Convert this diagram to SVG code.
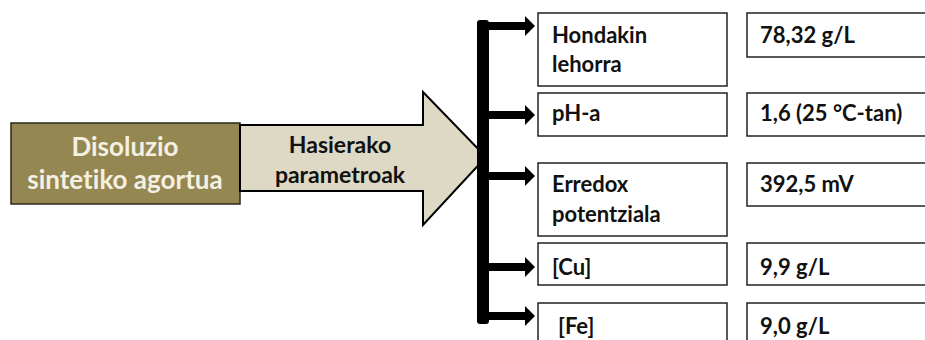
<svg xmlns="http://www.w3.org/2000/svg" width="925" height="340" viewBox="0 0 925 340">
<defs>
<style>
text{font-family:"Lato","Liberation Sans",sans-serif;font-weight:bold;font-variant-ligatures:none;}
.lbl{font-size:22px;fill:#111;}
.box{fill:#fff;stroke:#222;stroke-width:1.5;}
.src{font-size:26px;fill:#f4f0e2;text-anchor:middle;}
.mid{font-size:23px;fill:#111;text-anchor:middle;}
.conn{fill:none;stroke:#000;stroke-width:8;}
</style>
<marker id="ah" viewBox="0 0 10 20" refX="0" refY="10" markerWidth="10" markerHeight="20" markerUnits="userSpaceOnUse" orient="auto">
<path d="M0,0 L10,10 L0,20 Z" fill="#000"/>
</marker>
</defs>
<rect width="925" height="340" fill="#fff"/>
<g id="source">
<rect x="11" y="123" width="229" height="81" fill="#948751" stroke="#2a2a1a" stroke-width="1.5"/>
<text class="src" x="125" y="156">Disoluzio</text>
<text class="src" x="125" y="189">sintetiko agortua</text>
</g>
<g id="big-arrow">
<path d="M240,125 L423,125 L423,92 L486,157 L423,225 L423,191 L240,191 Z" fill="#ddd9c4" stroke="#000" stroke-width="2"/>
<text class="mid" x="340" y="153">Hasierako</text>
<text class="mid" x="340" y="183">parametroak</text>
</g>
<g id="connectors">
<rect x="477" y="20" width="12" height="304" rx="3" fill="#000"/>
<line class="conn" x1="483" y1="26" x2="525" y2="26" marker-end="url(#ah)"/>
<line class="conn" x1="483" y1="115" x2="525" y2="115" marker-end="url(#ah)"/>
<line class="conn" x1="483" y1="176" x2="525" y2="176" marker-end="url(#ah)"/>
<line class="conn" x1="483" y1="267" x2="525" y2="267" marker-end="url(#ah)"/>
<line class="conn" x1="483" y1="316" x2="525" y2="316" marker-end="url(#ah)"/>
</g>
<g id="row-hondakin">
<rect class="box" x="538" y="13" width="189" height="73"/>
<text class="lbl" x="552" y="43">Hondakin</text>
<text class="lbl" x="552" y="72">lehorra</text>
</g>
<g id="val-hondakin">
<rect class="box" x="747" y="13" width="190" height="44"/>
<text class="lbl" x="760" y="43">78,32 g/L</text>
</g>
<g id="row-ph">
<rect class="box" x="538" y="93" width="189" height="43"/>
<text class="lbl" x="552" y="121">pH-a</text>
</g>
<g id="val-ph">
<rect class="box" x="747" y="93" width="190" height="43"/>
<text class="lbl" x="760" y="121">1,6 (25 °C-tan)</text>
</g>
<g id="row-erredox">
<rect class="box" x="538" y="163" width="189" height="73"/>
<text class="lbl" x="552" y="192">Erredox</text>
<text class="lbl" x="552" y="222">potentziala</text>
</g>
<g id="val-erredox">
<rect class="box" x="747" y="163" width="190" height="43"/>
<text class="lbl" x="760" y="192">392,5 mV</text>
</g>
<g id="row-cu">
<rect class="box" x="538" y="243" width="189" height="42"/>
<text class="lbl" x="552" y="275">[Cu]</text>
</g>
<g id="val-cu">
<rect class="box" x="747" y="243" width="190" height="42"/>
<text class="lbl" x="760" y="275">9,9 g/L</text>
</g>
<g id="row-fe">
<rect class="box" x="538" y="303" width="189" height="50"/>
<text class="lbl" x="558" y="334">[Fe]</text>
</g>
<g id="val-fe">
<rect class="box" x="747" y="303" width="190" height="50"/>
<text class="lbl" x="760" y="334">9,0 g/L</text>
</g>
</svg>
